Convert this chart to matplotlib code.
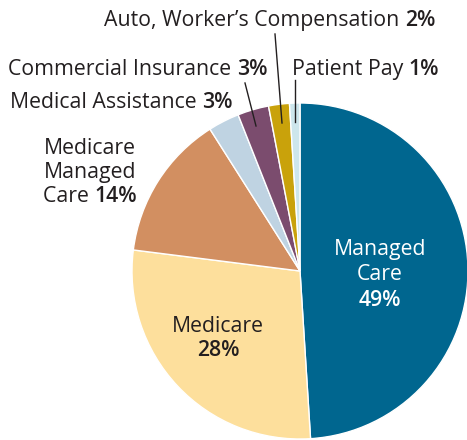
import matplotlib
matplotlib.use("Agg")
import matplotlib.pyplot as plt
from matplotlib.offsetbox import TextArea, HPacker, AnnotationBbox

categories = ["Managed Care", "Medicare", "Medicare Managed Care", "Medical Assistance",
              "Commercial Insurance", "Auto, Worker\u2019s Compensation", "Patient Pay"]
values = [49, 28, 14, 3, 3, 2, 1]
colors = ["#00668f", "#fddf9c", "#d28f61", "#bfd3e2", "#7b4c6e", "#c9a20b", "#cde6ec"]

W, H = 467, 440
fig = plt.figure(figsize=(W / 100, H / 100), dpi=100)
ax = fig.add_axes([0, 0, 1, 1])

cx, cy, R = 300, H - 271, 168
ax.pie(values, colors=colors, startangle=90, counterclock=False, center=(cx, cy), radius=R,
       wedgeprops=dict(edgecolor="white", linewidth=1.0), frame=True)
ax.set_xlim(0, W)
ax.set_ylim(0, H)
ax.set_aspect("equal")
ax.axis("off")

fam = ["Open Sans", "DejaVu Sans"]
fs = 15.3
col = "#231f20"

def packed(x, y, name, pct, halign=0.0, color=col):
    a = TextArea(name + " ", textprops=dict(fontsize=fs, family=fam, color=color))
    b = TextArea(pct, textprops=dict(fontsize=fs, family=fam, color=color, weight="semibold"))
    box = HPacker(children=[a, b], align="baseline", pad=0, sep=0)
    ab = AnnotationBbox(box, (x, H - y), frameon=False, box_alignment=(halign, 0.5), pad=0)
    ax.add_artist(ab)

packed(104, 20, categories[5], f"{values[5]}%")
packed(8, 69, categories[4], f"{values[4]}%")
packed(292, 69, categories[6], f"{values[6]}%")
packed(10, 102, categories[3], f"{values[3]}%")

# Medicare Managed Care multi-line
ax.text(90, H - 148, "Medicare", fontsize=fs, family=fam, color=col, ha="center", va="center")
ax.text(90, H - 172, "Managed", fontsize=fs, family=fam, color=col, ha="center", va="center")
packed(90, 196, "Care", f"{values[2]}%", halign=0.5)

# Managed Care
ax.text(380, H - 250, "Managed", fontsize=fs, family=fam, color="white", ha="center", va="center")
ax.text(380, H - 275, "Care", fontsize=fs, family=fam, color="white", ha="center", va="center")
ax.text(380, H - 301, f"{values[0]}%", fontsize=fs, family=fam, color="white", ha="center",
        va="center", weight="semibold")

# Medicare
ax.text(218, H - 326, "Medicare", fontsize=fs, family=fam, color=col, ha="center", va="center")
ax.text(218, H - 351, f"{values[1]}%", fontsize=fs, family=fam, color=col, ha="center",
        va="center", weight="semibold")

# leader lines
ax.plot([245, 256], [H - 83, H - 126], color=col, lw=1)
ax.plot([275, 282], [H - 34, H - 123], color=col, lw=1)
ax.plot([295, 295], [H - 80, H - 122], color=col, lw=1)

fig.savefig("out.png", dpi=100)
